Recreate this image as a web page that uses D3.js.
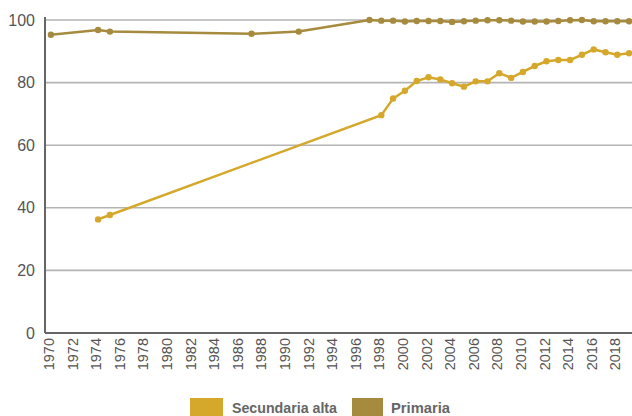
<!DOCTYPE html>
<html>
<head>
<meta charset="utf-8">
<script src="https://cdn.jsdelivr.net/npm/d3@7"></script>
<style>
  body { margin: 0; background: #fff; }
  svg { display: block; font-family: "Liberation Sans", Arial, sans-serif; }
</style>
</head>
<body>
<script>
// years on the x axis (one band per year)
var years = d3.range(1970, 2020);
var yTicks = [0, 20, 40, 60, 80, 100];

var primariaYears = [1970, 1974, 1975, 1987, 1991, 1997, 1998, 1999, 2000, 2001, 2002, 2003, 2004, 2005, 2006, 2007, 2008, 2009, 2010, 2011, 2012, 2013, 2014, 2015, 2016, 2017, 2018, 2019];
var primariaValues = [95.3, 96.8, 96.3, 95.6, 96.3, 100, 99.8, 99.8, 99.5, 99.7, 99.7, 99.7, 99.4, 99.6, 99.8, 99.9, 99.9, 99.8, 99.5, 99.5, 99.5, 99.7, 99.9, 100, 99.6, 99.6, 99.6, 99.6];

var secundariaYears = [1974, 1975, 1998, 1999, 2000, 2001, 2002, 2003, 2004, 2005, 2006, 2007, 2008, 2009, 2010, 2011, 2012, 2013, 2014, 2015, 2016, 2017, 2018, 2019];
var secundariaValues = [36.3, 37.7, 69.6, 74.9, 77.4, 80.5, 81.7, 81.0, 79.8, 78.7, 80.4, 80.4, 83.0, 81.5, 83.4, 85.3, 86.8, 87.2, 87.2, 88.9, 90.6, 89.7, 88.9, 89.4];

var series = [
    { name: 'Secundaria alta', color: '#d5a82c', years: secundariaYears, values: secundariaValues },
    { name: 'Primaria', color: '#a68b3e', years: primariaYears, values: primariaValues }
];

var svgWidth = 632, svgHeight = 416;
var plotLeft = 45, plotTop = 20, plotBottom = 333;
var step = 11.8;

var svg = d3.select('body').append('svg').attr('width', svgWidth).attr('height', svgHeight);

var x = d3.scaleBand().domain(years).range([plotLeft, plotLeft + step * years.length]).padding(0);
var y = d3.scaleLinear().domain([0, 100]).range([plotBottom, plotTop]);

function cx(yr) { return x(yr) + x.bandwidth() / 2; }

// grid lines
svg.append('g').selectAll('line')
    .data(yTicks.filter(function (d) { return d > 0; }))
    .enter().append('line')
    .attr('x1', plotLeft).attr('x2', svgWidth)
    .attr('y1', function (d) { return y(d); })
    .attr('y2', function (d) { return y(d); })
    .attr('stroke', '#b4b4b4').attr('stroke-width', 1.6);

// y labels
svg.append('g').selectAll('text')
    .data(yTicks)
    .enter().append('text')
    .attr('x', 35)
    .attr('y', function (d) { return y(d) + 5.5; })
    .attr('text-anchor', 'end')
    .attr('font-size', 16)
    .attr('fill', '#555')
    .text(function (d) { return d; });

// x labels
svg.append('g').selectAll('text')
    .data(years.filter(function (d) { return d % 2 === 0; }))
    .enter().append('text')
    .attr('transform', function (d) { return 'translate(' + (cx(d) + 3) + ',338) rotate(-90)'; })
    .attr('text-anchor', 'end')
    .attr('font-size', 14.5)
    .attr('fill', '#555')
    .text(function (d) { return d; });

// axes
svg.append('line').attr('x1', plotLeft).attr('x2', plotLeft).attr('y1', plotTop - 3).attr('y2', plotBottom)
    .attr('stroke', '#666').attr('stroke-width', 2);
svg.append('line').attr('x1', plotLeft).attr('x2', svgWidth).attr('y1', plotBottom).attr('y2', plotBottom)
    .attr('stroke', '#666').attr('stroke-width', 2);

var line = d3.line()
    .x(function (d) { return cx(d[0]); })
    .y(function (d) { return y(d[1]); });

series.forEach(function (s) {
    var pts = d3.zip(s.years, s.values);
    var g = svg.append('g');
    g.append('path').datum(pts)
        .attr('d', line)
        .attr('fill', 'none')
        .attr('stroke', s.color)
        .attr('stroke-width', 2.5);
    g.selectAll('circle').data(pts).enter().append('circle')
        .attr('cx', function (d) { return cx(d[0]); })
        .attr('cy', function (d) { return y(d[1]); })
        .attr('r', 3.2)
        .attr('fill', s.color);
});

// legend
var legendX = [190, 352];
var legendTextW = [105, 59];
series.forEach(function (s, i) {
    svg.append('rect').attr('x', legendX[i]).attr('y', 398)
        .attr('width', i === 0 ? 33 : 31).attr('height', 20).attr('fill', s.color);
    svg.append('text').attr('x', legendX[i] + (i === 0 ? 42 : 39)).attr('y', 413)
        .attr('font-size', 14).attr('font-weight', 'bold').attr('fill', '#666')
        .attr('textLength', legendTextW[i]).attr('lengthAdjust', 'spacingAndGlyphs')
        .text(s.name);
});
</script>
</body>
</html>
